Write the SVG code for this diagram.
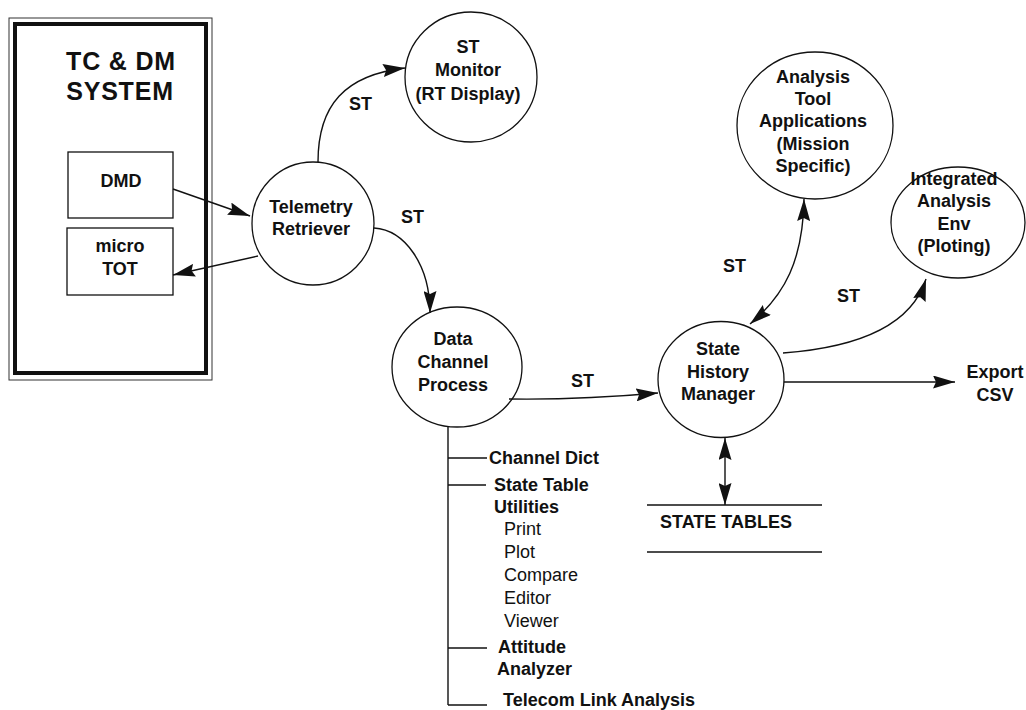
<svg xmlns="http://www.w3.org/2000/svg" width="1026" height="710" viewBox="0 0 1026 710">
<style>
text{font-family:"Liberation Sans",Arial,sans-serif;font-size:18px;fill:#111;}
.b{font-weight:bold;}
.c{text-anchor:middle;}
.r{font-weight:normal;}
.t{font-size:25px;font-weight:bold;letter-spacing:0.8px;}
.node{fill:#fff;stroke:#111;stroke-width:1.3;}
.ln{fill:none;stroke:#111;stroke-width:1.4;}
</style>
<defs>
<marker id="ah" viewBox="0 0 22 13" refX="22" refY="6.5" markerWidth="22" markerHeight="13" markerUnits="userSpaceOnUse" orient="auto-start-reverse">
<path d="M0,0 L22,6.5 L0,13 L3,6.5 z" fill="#111"/>
</marker>
</defs>
<rect width="1026" height="710" fill="#fff"/>

<g id="tcdm-system">
<rect x="9" y="18" width="203" height="362" fill="none" stroke="#333" stroke-width="1"/>
<rect x="15" y="24" width="191" height="349" fill="none" stroke="#111" stroke-width="4"/>
<text class="t c" x="121" y="70">TC &amp; DM</text>
<text class="t c" x="120" y="100">SYSTEM</text>
</g>
<g id="dmd">
<rect x="68" y="152" width="105" height="66" class="node"/>
<text class="b c" x="121" y="187">DMD</text>
</g>
<g id="micro-tot">
<rect x="67" y="228" width="106" height="67" class="node"/>
<text class="b c" x="120" y="252">micro</text>
<text class="b c" x="120" y="275">TOT</text>
</g>

<g id="telemetry-retriever">
<ellipse cx="313" cy="223.5" rx="61" ry="61.5" class="node"/>
<text class="b c" x="311" y="213">Telemetry</text>
<text class="b c" x="311" y="235">Retriever</text>
</g>
<g id="st-monitor">
<ellipse cx="471" cy="77" rx="66" ry="65" class="node"/>
<text class="b c" x="468" y="53">ST</text>
<text class="b c" x="468" y="76">Monitor</text>
<text class="b c" x="468" y="100">(RT Display)</text>
</g>
<g id="data-channel-process">
<ellipse cx="457" cy="367" rx="65" ry="60" class="node"/>
<text class="b c" x="453" y="345">Data</text>
<text class="b c" x="453" y="368">Channel</text>
<text class="b c" x="453" y="391">Process</text>
</g>
<g id="state-history-manager">
<ellipse cx="721" cy="379.5" rx="63" ry="58" class="node"/>
<text class="b c" x="718" y="355">State</text>
<text class="b c" x="718" y="378">History</text>
<text class="b c" x="718" y="400">Manager</text>
</g>
<g id="analysis-tool-applications">
<ellipse cx="815" cy="125.5" rx="78" ry="73.5" class="node"/>
<text class="b c" x="813" y="83">Analysis</text>
<text class="b c" x="813" y="105">Tool</text>
<text class="b c" x="813" y="127">Applications</text>
<text class="b c" x="813" y="150">(Mission</text>
<text class="b c" x="813" y="172">Specific)</text>
</g>
<g id="integrated-analysis-env">
<ellipse cx="958" cy="222.5" rx="67" ry="55.5" class="node"/>
<text class="b c" x="954" y="185">Integrated</text>
<text class="b c" x="954" y="207">Analysis</text>
<text class="b c" x="954" y="230">Env</text>
<text class="b c" x="954" y="252">(Ploting)</text>
</g>
<g id="export-csv">
<text class="b c" x="995" y="378">Export</text>
<text class="b c" x="995" y="401">CSV</text>
</g>
<g id="state-tables">
<line x1="647" y1="505" x2="822" y2="505" class="ln"/>
<line x1="647" y1="552" x2="822" y2="552" class="ln"/>
<text class="b" x="660" y="528">STATE TABLES</text>
</g>
<g id="dcp-utilities">
<text class="b" x="489" y="464">Channel Dict</text>
<text class="b" x="494" y="491">State Table</text>
<text class="b" x="494" y="513">Utilities</text>
<text class="r" x="504" y="535">Print</text>
<text class="r" x="504" y="558">Plot</text>
<text class="r" x="504" y="581">Compare</text>
<text class="r" x="504" y="604">Editor</text>
<text class="r" x="504" y="627">Viewer</text>
<text class="b" x="498" y="653">Attitude</text>
<text class="b" x="497" y="675">Analyzer</text>
<text class="b" x="503" y="706">Telecom Link Analysis</text>
</g>

<g id="connectors">
<line x1="173" y1="189" x2="250" y2="216" class="ln" marker-end="url(#ah)"/>
<line x1="258" y1="256" x2="173" y2="275" class="ln" marker-end="url(#ah)"/>
<path d="M318 162 C318 105 345 75 405 68" class="ln" marker-end="url(#ah)"/>
<path d="M374 228 C405 230 430 265 430 313" class="ln" marker-end="url(#ah)"/>
<path d="M509 399 Q580 400 658 393" class="ln" marker-end="url(#ah)"/>
<path d="M750 324 C785 295 803 260 804 199" class="ln" marker-start="url(#ah)" marker-end="url(#ah)"/>
<path d="M783 353 C850 348 910 330 926 279" class="ln" marker-end="url(#ah)"/>
<line x1="784" y1="382" x2="955" y2="382" class="ln" marker-end="url(#ah)"/>
<line x1="725" y1="438" x2="725" y2="505" class="ln" marker-start="url(#ah)" marker-end="url(#ah)"/>
<line x1="448" y1="427" x2="448" y2="705" class="ln"/>
<line x1="448" y1="458" x2="487" y2="458" class="ln"/>
<line x1="448" y1="485" x2="486" y2="485" class="ln"/>
<line x1="448" y1="648" x2="487" y2="648" class="ln"/>
<line x1="448" y1="705" x2="487" y2="705" class="ln"/>
<text class="b" x="349" y="110">ST</text>
<text class="b" x="401" y="223">ST</text>
<text class="b" x="571" y="387">ST</text>
<text class="b" x="723" y="272">ST</text>
<text class="b" x="837" y="302">ST</text>
</g>
</svg>
